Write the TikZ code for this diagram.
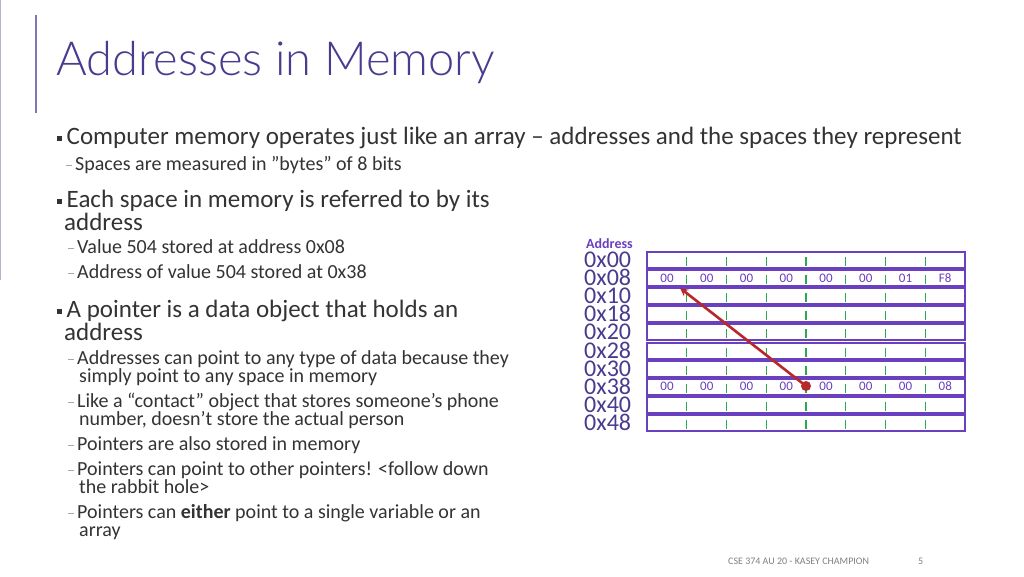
\documentclass[tikz,border=0pt]{standalone}
\usepackage{fontspec}
\setmainfont{Carlito}
\newfontfamily\titlefont{Lato Light}
\usetikzlibrary{positioning}
\definecolor{titlepurple}{HTML}{4A3B8E}
\definecolor{gridpurple}{HTML}{6A3FC0}
\definecolor{txtgray}{HTML}{333333}
\definecolor{gridgreen}{HTML}{2EA84A}
\definecolor{ptrred}{HTML}{B8282A}
\tikzset{
  bul/.style={anchor=west, text=txtgray, font=\fontsize{25}{28}\selectfont, inner sep=0pt, text height=14pt, text depth=4pt},
  sub/.style={anchor=west, text=txtgray, font=\fontsize{20}{22}\selectfont, inner sep=0pt, text height=11pt, text depth=3pt},
  addr/.style={anchor=west, text=titlepurple, font=\fontsize{24}{24}\selectfont, inner sep=0pt, text height=13pt, text depth=0pt},
  byte/.style={text=gridpurple, font=\fontsize{13}{13}\selectfont, inner sep=0pt},
  memrow/.style={draw=gridpurple, line width=2pt},
}
\newcommand{\sq}{\raisebox{0.25ex}{\rule{0.2em}{0.2em}}\hspace{0.18em}}
\newcommand{\dsh}{\textcolor{gray!70}{\rule[0.5ex]{0.3em}{0.4pt}}\hspace{0.15em}}
\begin{document}
\begin{tikzpicture}[x=1pt,y=-1pt]
\useasboundingbox[fill=white] (0,0) rectangle (1024,576);
% margin bars
\draw[titlepurple!70, line width=1.2pt] (36,15) -- (36,113);
\draw[titlepurple!40, line width=1pt] (0.5,0) -- (0.5,280);
% title
\node[anchor=west, text=titlepurple, font=\titlefont\fontsize{47}{47}\selectfont, inner sep=0pt] (title) at (56,63) {Addresses in Memory};
% bullets
\node[bul] (b1) at (57,139) {\sq Computer memory operates just like an array -- addresses and the spaces they represent};
\node[sub] (b1a) at (66,166) {\dsh Spaces are measured in ''bytes'' of 8 bits};
\node[bul] (b2) at (57,202) {\sq Each space in memory is referred to by its};
\node[bul] (b2b) at (64,225) {address};
\node[sub] (b2a) at (68,249) {\dsh Value 504 stored at address 0x08};
\node[sub] (b2c) at (68,274) {\dsh Address of value 504 stored at 0x38};
\node[bul] (b3) at (57,312) {\sq A pointer is a data object that holds an};
\node[bul] (b3b) at (64,335) {address};
\node[sub] (s1) at (68,360) {\dsh Addresses can point to any type of data because they};
\node[sub] (s1b) at (79,378) {simply point to any space in memory};
\node[sub] (s2) at (68,403) {\dsh Like a ``contact'' object that stores someone's phone};
\node[sub] (s2b) at (79,421) {number, doesn't store the actual person};
\node[sub] (s3) at (68,446) {\dsh Pointers are also stored in memory};
\node[sub] (s4) at (68,471) {\dsh Pointers can point to other pointers! <follow down};
\node[sub] (s4b) at (79,489) {the rabbit hole>};
\node[sub] (s5) at (68,514) {\dsh Pointers can \textbf{either} point to a single variable or an};
\node[sub] (s5b) at (79,532) {array};
% memory picture
\node[anchor=west, text=gridpurple, font=\bfseries\fontsize{14}{14}\selectfont, inner sep=0pt] (head) at (586,244) {Address};
\foreach \a [count=\i from 0] in {00,08,10,18,20,28,30,38,40,48} {
  \draw[memrow] (647,{252+18.1*\i}) rectangle (965,{252+18.1*\i+16});
  \node[addr] (a\i) at (584,{261+18.1*\i}) {0x\a};
}
\foreach \c in {1,...,7}
  \draw[gridgreen, line width=1.4pt, dash pattern=on 9pt off 9.1pt, dash phase=-5pt] ({647+39.75*\c},252) -- ({647+39.75*\c},433);
\foreach \v [count=\c from 0] in {00,00,00,00,00,00,01,F8}
  \node[byte] (r\c) at ({667+39.75*\c},278) {\v};
\foreach \v [count=\c from 0] in {00,00,00,00,00,00,00,08}
  \node[byte] (p\c) at ({667+39.75*\c},386) {\v};
\coordinate (ptr) at (806,386);
\coordinate (tgt) at (680,288);
\fill[ptrred] (ptr) circle (5pt);
\draw[ptrred, line width=2.6pt, -stealth] (ptr) -- (tgt);
% footer
\node[anchor=west, text=gray, font=\fontsize{10}{10}\selectfont, inner sep=0pt] (foot) at (728,561) {CSE 374 AU 20 - KASEY CHAMPION};
\node[anchor=west, text=gray, font=\fontsize{10}{10}\selectfont, inner sep=0pt] (page) at (918,561) {5};
\end{tikzpicture}
\end{document}
